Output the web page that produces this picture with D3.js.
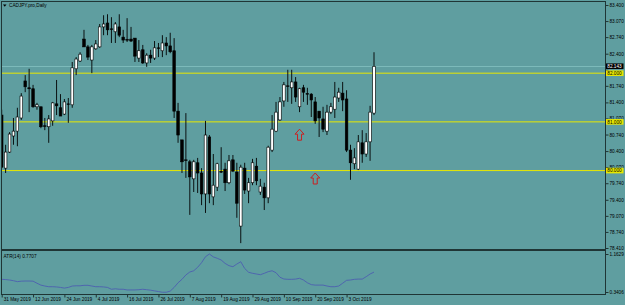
<!DOCTYPE html>
<html>
<head>
<meta charset="utf-8">
<script src="https://cdn.jsdelivr.net/npm/d3@7"></script>
<style>
  body { margin: 0; background: #5f9ea0; }
  svg text { font-family: "Liberation Sans", Arial, sans-serif; }
</style>
</head>
<body>
<svg id="chart"></svg>
<script>
// CADJPY daily candles, 31 May 2019 onwards
const opens = [81.14,80.05,80.38,80.71,80.81,81.08,81.84,81.70,81.68,81.31,81.31,80.92,80.90,81.02,81.37,81.29,81.16,81.37,81.35,82.09,
  82.25,82.70,82.54,82.27,82.50,82.54,82.95,83.03,82.91,82.85,82.95,82.74,82.69,82.70,82.72,82.31,82.48,82.21,82.37,82.31,
  82.52,82.46,82.62,82.56,82.46,81.22,80.63,80.22,80.18,79.83,80.16,79.95,79.52,80.69,79.46,79.66,79.98,80.03,79.75,80.22,
  79.97,78.86,80.05,79.58,79.75,80.09,79.56,79.66,79.44,80.42,80.81,81.04,81.43,81.74,81.70,81.82,81.31,81.70,81.58,81.57,
  81.41,81.22,81.06,80.81,81.20,81.26,81.49,81.59,81.47,80.42,80.14,80.03,80.57,80.34,80.59,81.18];
const highs = [81.25,80.53,80.79,81.08,81.29,81.59,81.96,82.09,81.76,81.39,81.31,81.08,81.14,81.41,81.86,81.57,81.47,81.49,82.23,82.33,
  82.43,82.89,82.58,82.58,82.68,83.01,83.19,83.21,83.15,83.05,83.21,82.89,83.13,82.95,82.72,82.68,82.58,82.41,82.48,82.66,
  82.62,82.78,82.74,82.83,82.72,81.39,80.63,81.18,80.22,80.22,80.26,80.05,81.02,80.73,80.34,80.16,80.48,80.16,80.32,80.32,
  80.16,80.12,80.16,79.85,80.24,80.26,79.83,79.75,80.51,81.14,81.41,81.51,81.82,82.07,82.07,81.92,81.70,81.76,81.70,81.59,
  81.51,81.22,81.31,81.35,81.39,81.82,81.70,81.82,81.65,80.53,80.46,80.73,80.83,80.77,81.33,82.43];
const lows = [80.05,79.95,80.36,80.53,80.50,81.04,81.61,81.20,81.29,81.25,80.87,80.83,80.57,80.92,81.14,81.12,81.14,80.98,81.29,81.96,
  82.23,82.54,82.27,82.00,82.48,82.52,82.78,82.78,82.62,82.62,82.74,82.62,82.64,82.64,82.23,82.23,82.19,82.13,82.21,82.27,
  82.33,82.33,82.37,82.41,81.08,80.57,79.95,79.85,79.09,79.56,79.54,79.29,79.13,79.33,79.29,79.58,79.95,79.58,79.72,79.97,
  79.03,78.51,79.52,79.33,79.70,79.70,79.50,79.19,79.33,80.38,80.79,81.02,81.31,81.41,81.37,81.41,81.20,81.41,81.35,81.10,
  80.96,80.69,80.79,80.73,81.16,81.08,81.41,81.22,80.38,79.81,80.03,80.01,80.16,80.28,80.20,81.14];
const closes = [80.07,80.38,80.75,80.81,81.10,81.53,81.72,81.68,81.31,81.35,80.90,80.91,81.06,81.39,81.33,81.12,81.41,81.36,82.11,82.29,
  82.39,82.54,82.33,82.54,82.60,82.95,83.01,82.89,82.90,83.01,82.78,82.68,82.68,82.66,82.35,82.46,82.21,82.37,82.31,82.52,
  82.51,82.62,82.56,82.44,81.22,80.73,80.18,80.21,79.87,80.18,79.95,79.52,80.73,79.52,79.70,80.14,79.97,79.75,80.20,79.99,
  79.33,80.07,79.60,79.75,80.16,79.79,79.68,79.44,80.48,80.85,81.20,81.41,81.76,81.73,81.82,81.51,81.68,81.61,81.57,81.45,
  81.02,81.08,80.85,81.20,81.31,81.51,81.61,81.45,80.42,80.16,80.26,80.59,80.34,80.59,81.20,82.14];

const atrValues = [0.615,0.61,0.60,0.585,0.565,0.575,0.578,0.578,0.575,0.53,0.49,0.47,0.455,0.455,0.45,0.44,0.425,0.44,0.47,0.475,
  0.475,0.485,0.485,0.47,0.455,0.455,0.45,0.44,0.40,0.41,0.40,0.40,0.385,0.385,0.385,0.39,0.40,0.39,0.38,0.365,
  0.35,0.335,0.335,0.36,0.44,0.54,0.615,0.71,0.773,0.80,0.875,0.975,1.105,1.163,1.10,1.07,1.033,0.96,0.91,0.888,
  0.946,0.996,0.85,0.767,0.745,0.73,0.715,0.745,0.78,0.80,0.758,0.66,0.622,0.615,0.615,0.62,0.637,0.60,0.54,0.50,
  0.49,0.49,0.49,0.47,0.455,0.455,0.47,0.53,0.593,0.60,0.615,0.62,0.62,0.672,0.73,0.7707];

const priceTicks = [83.400,83.070,82.740,82.400,82.070,81.740,81.400,81.070,80.740,80.400,80.070,79.740,79.400,79.070,78.740,78.410];
const atrTicks = [1.1629, 0.3406];
const dateIdx = [0,8,16,24,32,40,48,56,64,72,80,88];
const dateLabels = ["31 May 2019","12 Jun 2019","24 Jun 2019","4 Jul 2019","16 Jul 2019","26 Jul 2019",
  "7 Aug 2019","19 Aug 2019","29 Aug 2019","10 Sep 2019","20 Sep 2019","3 Oct 2019"];

const levels = [82.000, 81.000, 80.000];
const lastPrice = 82.143;
const arrowIdx = [76, 80];
const arrowPrice = [80.85, 79.95];

const W = 625, H = 305;
const bg = "#5f9ea0", fg = "#1f3535";
const fontSize = 4.7;
const tagH = 5.6;

const svg = d3.select("#chart").attr("width", W).attr("height", H);
svg.append("rect").attr("width", W).attr("height", H).attr("fill", bg);

const x = d3.scaleLinear().domain([0, 95]).range([1.7, 374]);
const y = d3.scaleLinear().domain([78.41, 83.4]).range([248, 5]);
const yAtr = d3.scaleLinear().domain([0.3406, 1.1629]).range([292, 254]);

const candles = opens.map((o, i) => ({ i: i, o: o, h: highs[i], l: lows[i], c: closes[i] }));

// main panel
const main = svg.append("g");
const defs = svg.append("defs");
defs.append("clipPath").attr("id", "clipMain")
  .append("rect").attr("x", 1.5).attr("y", 1.5).attr("width", 604).attr("height", 248);
const plot = main.append("g").attr("clip-path", "url(#clipMain)");

// bid line
plot.append("line")
  .attr("x1", 1.5).attr("x2", 605.5)
  .attr("y1", Math.round(y(lastPrice)) + 0.5).attr("y2", Math.round(y(lastPrice)) + 0.5)
  .attr("stroke", "#7cbaba").attr("stroke-width", 1);

// horizontal levels
plot.selectAll(".level").data(levels).enter().append("line")
  .attr("x1", 1.5).attr("x2", 605.5)
  .attr("y1", d => y(d)).attr("y2", d => y(d))
  .attr("stroke", "#e8e800").attr("stroke-width", 1);

// candles
const cg = plot.selectAll(".candle").data(candles).enter().append("g");
cg.append("line")
  .attr("x1", d => x(d.i)).attr("x2", d => x(d.i))
  .attr("y1", d => y(d.h)).attr("y2", d => y(d.l))
  .attr("stroke", "#000").attr("stroke-width", 0.9);
cg.append("rect")
  .attr("x", d => x(d.i) - 1.3)
  .attr("width", 2.6)
  .attr("y", d => y(Math.max(d.o, d.c)))
  .attr("height", d => Math.max(0.6, Math.abs(y(d.o) - y(d.c))))
  .attr("fill", d => d.c >= d.o ? "#fff" : "#000")
  .attr("stroke", "#000").attr("stroke-width", 0.6);

// arrows
const arrowPath = "M0,0 L4.5,5 L2,5 L2,11 L-2,11 L-2,5 L-4.5,5 Z";
plot.selectAll(".arrow").data(arrowIdx).enter().append("path")
  .attr("d", arrowPath)
  .attr("transform", (d, k) => `translate(${x(d)},${y(arrowPrice[k])})`)
  .attr("fill", "none").attr("stroke", "#cc1f1f").attr("stroke-width", 1);

// title
main.append("path").attr("d", "M3,4.5 L6.5,4.5 L4.75,6.8 Z").attr("fill", "#000");
main.append("text").attr("x", 9).attr("y", 7).attr("font-size", fontSize)
  .attr("fill", "#000").text("CADJPY.pro,Daily");

// ATR panel
const atrLine = d3.line().x((d, i) => x(i)).y(d => yAtr(d));
svg.append("path").datum(atrValues)
  .attr("d", atrLine).attr("fill", "none")
  .attr("stroke", "#4d5fb0").attr("stroke-width", 0.9);
svg.append("text").attr("x", 3.5).attr("y", 257.5).attr("font-size", fontSize)
  .attr("fill", "#000").text("ATR(14) 0.7707");

// frames
svg.append("rect").attr("x", 1.5).attr("y", 1.5).attr("width", 604).attr("height", 248)
  .attr("fill", "none").attr("stroke", fg);
svg.append("rect").attr("x", 1.5).attr("y", 250.5).attr("width", 604).attr("height", 44)
  .attr("fill", "none").attr("stroke", fg);

// price axis
const axisP = svg.append("g").attr("transform", "translate(605.5,0)")
  .call(d3.axisRight(y).tickValues(priceTicks).tickSize(3).tickPadding(1).tickFormat(d3.format(".3f")));
const axisA = svg.append("g").attr("transform", "translate(605.5,0)")
  .call(d3.axisRight(yAtr).tickValues(atrTicks).tickSize(3).tickPadding(1).tickFormat(d3.format(".4f")));
[axisP, axisA].forEach(a => {
  a.select(".domain").remove();
  a.selectAll("line").attr("stroke", fg);
  a.selectAll("text").attr("font-size", fontSize).attr("fill", "#000")
    .attr("font-family", "Liberation Sans, Arial, sans-serif");
});
svg.append("line").attr("x1", 605.5).attr("x2", 605.5).attr("y1", 1).attr("y2", 295)
  .attr("stroke", fg);

// axis labels for levels and bid
const tags = levels.map(v => ({ v: v, fill: "#e8e800", text: "#000" }))
  .concat([{ v: lastPrice, fill: "#000", text: "#fff" }]);

// tick labels sitting under a tag: only the part above the tag shows, as in MT4
axisP.selectAll(".tick").each(function (d, k) {
  const near = tags.filter(t => Math.abs(y(t.v) - y(d)) < 5.5);
  if (!near.length) return;
  const tagTop = d3.min(near, t => y(t.v)) - tagH / 2;
  const txt = d3.select(this).select("text");
  const visible = tagTop - (y(d) - 2.6);
  if (visible < 1.5) { txt.remove(); return; }
  const id = "tickclip" + k;
  defs.append("clipPath").attr("id", id)
    .append("rect").attr("x", 0).attr("width", 20)
    .attr("y", -6).attr("height", 6 + tagTop - y(d));
  txt.attr("clip-path", `url(#${id})`);
});

const tg = svg.selectAll(".tag").data(tags).enter().append("g")
  .attr("transform", d => `translate(606,${y(d.v)})`);
tg.append("rect").attr("x", 0).attr("y", -tagH / 2).attr("width", 17.5).attr("height", tagH)
  .attr("fill", d => d.fill);
tg.append("text").attr("x", 1.3).attr("y", 1.7).attr("font-size", fontSize)
  .attr("fill", d => d.text).text(d => d3.format(".3f")(d.v));

// date axis
const axisD = svg.append("g").attr("transform", "translate(0,294.5)")
  .call(d3.axisBottom(x).tickValues(dateIdx).tickSize(3).tickFormat((d, k) => dateLabels[k]));
axisD.select(".domain").remove();
axisD.selectAll("line").attr("stroke", fg);
axisD.selectAll("text").attr("font-size", fontSize).attr("fill", "#000")
  .attr("text-anchor", "start").attr("x", 1.5).attr("y", 2.8).attr("dy", "0.71em")
  .attr("font-family", "Liberation Sans, Arial, sans-serif");
</script>
</body>
</html>
